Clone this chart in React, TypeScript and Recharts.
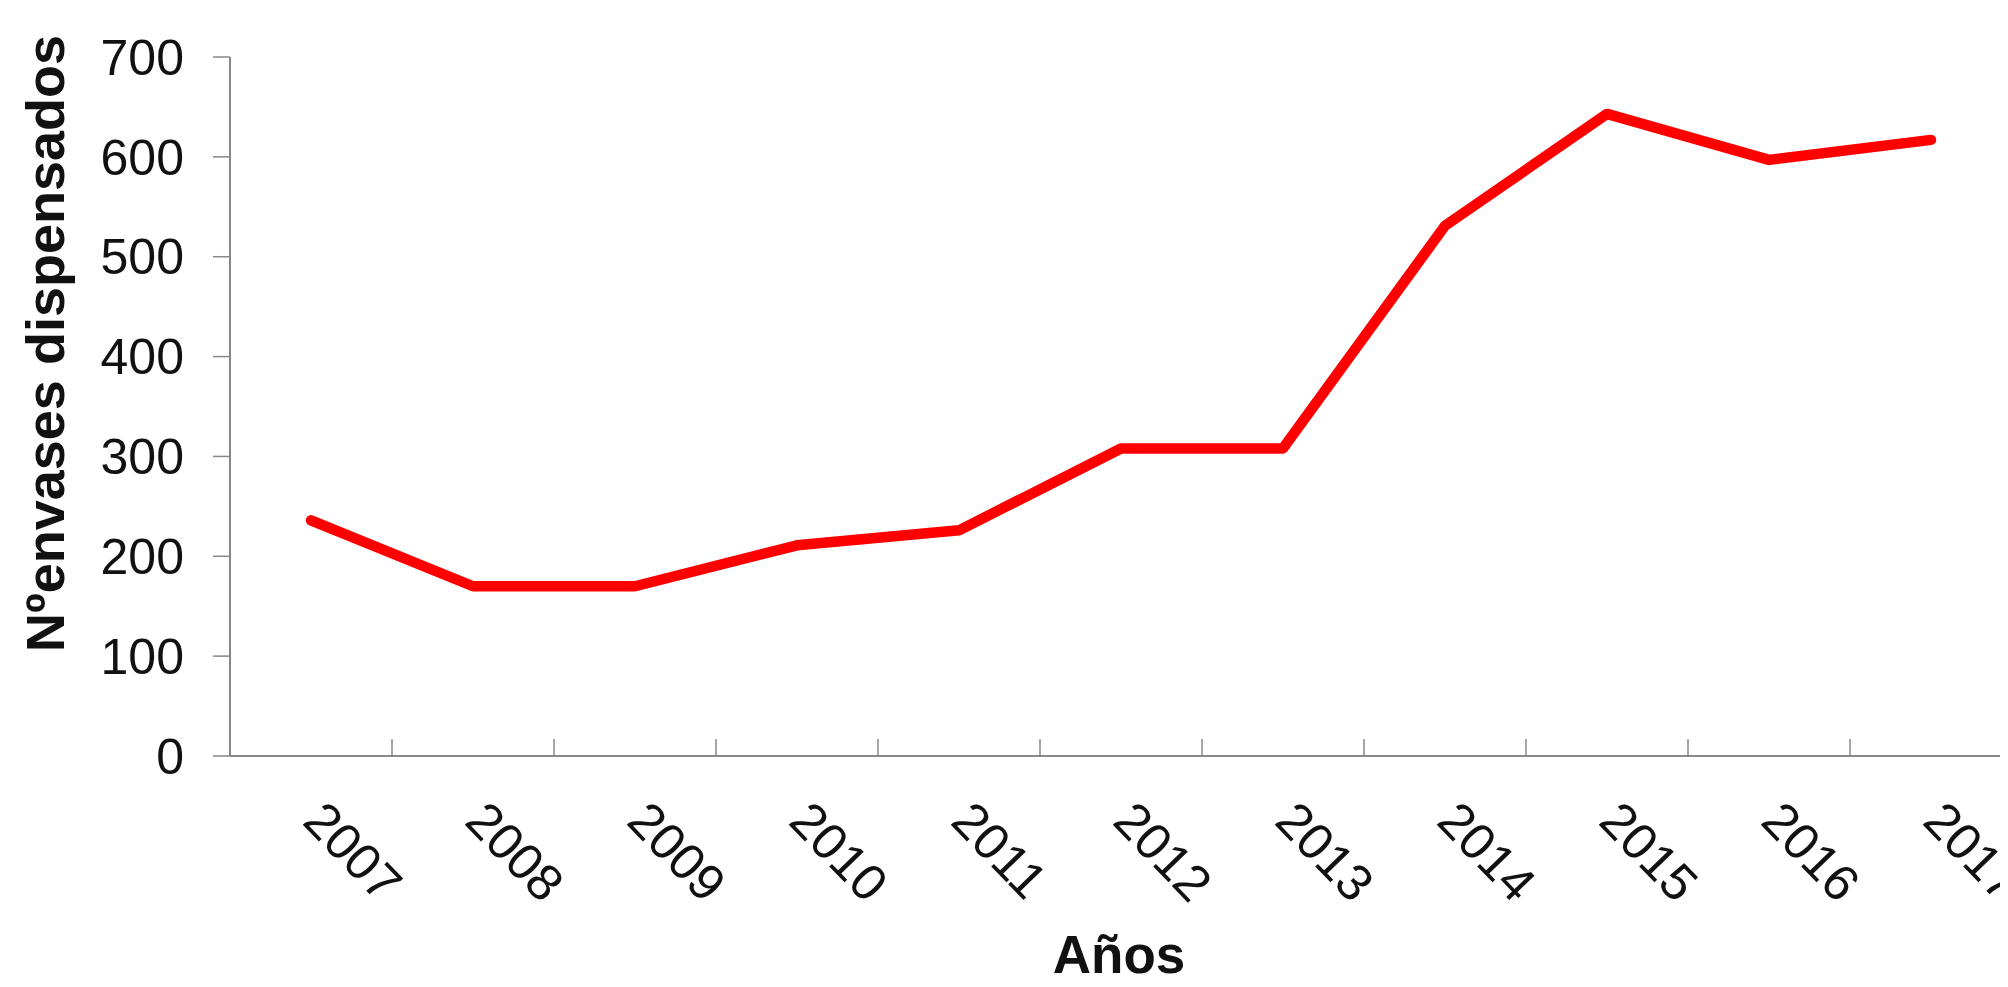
import React from 'react';
import { LineChart, Line, XAxis, YAxis } from 'recharts';

const years = ['2007', '2008', '2009', '2010', '2011', '2012', '2013', '2014', '2015', '2016', '2017'];
const envases = [236, 170, 170, 211, 226, 308, 308, 531, 643, 597, 617];
const yTicks = [0, 100, 200, 300, 400, 500, 600, 700];
const yTitle = 'Nºenvases dispensados';
const xTitle = 'Años';

const data = years.map((year, i) => ({ idx: i, year, value: envases[i] }));
const centerTicks = years.map((_, i) => i);
const boundaryTicks = years.map((_, i) => i + 0.5);

const FONT = '"Liberation Sans", Arial, sans-serif';
const AXIS = '#878787';

const YearTick = (props: any) => {
  const { x, y, payload } = props;
  const label = years[payload.value];
  const tx = x - 10;
  const ty = y + 67;
  return (
    <text x={tx} y={ty} transform={`rotate(46, ${tx}, ${ty})`} textAnchor="start" fontSize={51} fontFamily={FONT} fill="#111">
      {label}
    </text>
  );
};

const EmptyTick = () => <g />;

const YTitle = (props: any) => {
  const vb = props.viewBox;
  const cx = vb.x + 56;
  const cy = vb.y + vb.height / 2 - 63;
  return (
    <text x={cx} y={cy} transform={`rotate(-90, ${cx}, ${cy})`} textAnchor="middle" fontSize={54} fontWeight="bold" fontFamily={FONT} fill="#111">
      {yTitle}
    </text>
  );
};

const XTitle = (props: any) => {
  const vb = props.viewBox;
  const cx = vb.x + vb.width / 2 - 2;
  const cy = vb.y + 217;
  return (
    <text x={cx} y={cy} textAnchor="middle" fontSize={53} fontWeight="bold" fontFamily={FONT} fill="#111">
      {xTitle}
    </text>
  );
};

export default function App() {
  return (
    <div style={{ width: 2000, height: 979, overflow: 'hidden', background: '#fff' }}>
      <LineChart width={2010} height={979} data={data} margin={{ top: 49, right: 6, left: 0, bottom: 0 }}>
        <XAxis
          xAxisId="b"
          type="number"
          dataKey="idx"
          domain={[-0.5, 10.5]}
          allowDataOverflow
          ticks={boundaryTicks}
          interval={0}
          tick={<EmptyTick />}
          mirror
          height={1}
          tickSize={17}
          axisLine={{ stroke: AXIS, strokeWidth: 2 }}
          tickLine={{ stroke: AXIS, strokeWidth: 1.5 }}
        />
        <XAxis
          type="number"
          dataKey="idx"
          domain={[-0.5, 10.5]}
          allowDataOverflow
          ticks={centerTicks}
          interval={0}
          tick={<YearTick />}
          tickLine={false}
          tickSize={0}
          tickMargin={0}
          axisLine={false}
          height={231}
          label={(p: any) => <XTitle {...p} />}
        />
        <YAxis
          type="number"
          domain={[0, 700]}
          ticks={yTicks}
          interval={0}
          width={222}
          tickSize={17}
          tickMargin={29}
          axisLine={{ stroke: AXIS, strokeWidth: 2 }}
          tickLine={{ stroke: AXIS, strokeWidth: 1.5 }}
          tick={{ fontSize: 50, fontFamily: FONT, fill: '#111' }}
          label={(p: any) => <YTitle {...p} />}
        />
        <Line
          xAxisId="b"
          type="linear"
          dataKey="value"
          stroke="none"
          strokeWidth={0}
          dot={false}
          activeDot={false}
          isAnimationActive={false}
        />
        <Line
          type="linear"
          dataKey="value"
          stroke="#ff0000"
          strokeWidth={10.5}
          strokeLinecap="round"
          strokeLinejoin="round"
          dot={false}
          activeDot={false}
          isAnimationActive={false}
        />
      </LineChart>
    </div>
  );
}
